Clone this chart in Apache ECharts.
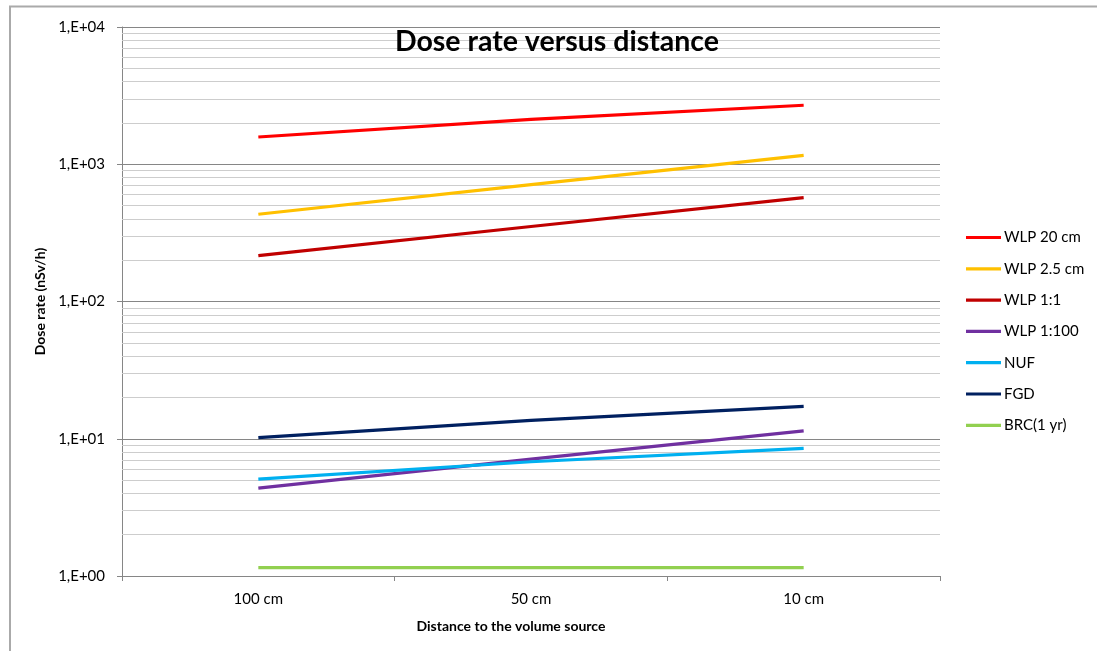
<!DOCTYPE html>
<html>
<head>
<meta charset="utf-8">
<script src="https://cdn.jsdelivr.net/npm/echarts@6/dist/echarts.min.js"></script>
<style>
html,body{margin:0;padding:0;background:#fff;}
#chart{width:1097px;height:651px;}
</style>
</head>
<body>
<div id="chart"></div>
<script>
var categories = ['100 cm', '50 cm', '10 cm'];
var wlp20 = [1580, 2120, 2690];
var wlp25 = [432, 710, 1160];
var wlp11 = [216, 352, 572];
var wlp1100 = [4.37, 7.1, 11.4];
var nuf = [5.08, 6.8, 8.5];
var fgd = [10.2, 13.6, 17.2];
var brc = [1.15, 1.15, 1.15];
var yTickLabels = ['1,E+00', '1,E+01', '1,E+02', '1,E+03', '1,E+04'];
var seriesNames = ['WLP 20 cm', 'WLP 2.5 cm', 'WLP 1:1', 'WLP 1:100', 'NUF', 'FGD', 'BRC(1 yr)'];
var seriesColors = ['#FF0000', '#FFC000', '#C00000', '#7030A0', '#00B0F0', '#002060', '#92D050'];
var seriesData = [wlp20, wlp25, wlp11, wlp1100, nuf, fgd, brc];

var FONT = 'Lato, "Open Sans", sans-serif';

// minor gridlines at 2..9 x each decade
var minorLines = [];
for (var d = 0; d < 4; d++) {
  for (var m = 2; m <= 9; m++) {
    minorLines.push({ yAxis: m * Math.pow(10, d) });
  }
}

var series = seriesNames.map(function (n, i) {
  return {
    name: n,
    type: 'line',
    data: seriesData[i],
    symbol: 'none',
    smooth: false,
    z: 5,
    lineStyle: { color: seriesColors[i], width: 3.2 },
    itemStyle: { color: seriesColors[i] }
  };
});
series.unshift({
  name: 'minor',
  type: 'line',
  data: ['-', '-', '-'],
  symbol: 'none',
  silent: true,
  z: 1,
  markLine: {
    silent: true,
    symbol: ['none', 'none'],
    label: { show: false },
    lineStyle: { color: '#cdcdcd', width: 1, type: 'solid' },
    emphasis: { disabled: true },
    animation: false,
    data: minorLines
  }
});

var chart = echarts.init(document.getElementById('chart'), null, { renderer: 'canvas' });
chart.setOption({
  animation: false,
  backgroundColor: '#ffffff',
  graphic: [{
    type: 'rect',
    shape: { x: 10, y: 6.5, width: 1200, height: 800 },
    style: { fill: 'none', stroke: '#aaaaaa', lineWidth: 2 },
    silent: true
  }],
  title: {
    text: 'Dose rate versus distance',
    left: 552,
    textAlign: 'center',
    top: 22,
    textStyle: { fontFamily: FONT, fontSize: 28.5, fontWeight: 'bold', color: '#000' }
  },
  legend: {
    orient: 'vertical',
    left: 961,
    top: 225,
    icon: 'rect',
    itemWidth: 35,
    itemHeight: 3.2,
    itemGap: 16.3,
    data: seriesNames,
    textStyle: { fontFamily: FONT, fontSize: 15, lineHeight: 14, color: '#000', padding: [0, 0, 0, -2] }
  },
  grid: { left: 122, top: 27, right: 157, bottom: 75, containLabel: false },
  xAxis: {
    type: 'category',
    data: categories,
    boundaryGap: true,
    name: 'Distance to the volume source',
    nameLocation: 'middle',
    nameGap: 43,
    nameTextStyle: { fontFamily: FONT, fontSize: 14, fontWeight: 'bold', color: '#000', padding: [0, 40, 0, 0] },
    axisLine: { lineStyle: { color: '#868686', width: 1 } },
    axisTick: { show: true, length: 5, lineStyle: { color: '#868686' } },
    axisLabel: { fontFamily: FONT, fontSize: 15, color: '#000', margin: 16 },
    splitLine: { show: false }
  },
  yAxis: {
    type: 'log',
    logBase: 10,
    min: 1,
    max: 10000,
    name: 'Dose rate (nSv/h)',
    nameLocation: 'middle',
    nameGap: 72,
    nameRotate: 90,
    nameTextStyle: { fontFamily: FONT, fontSize: 14, fontWeight: 'bold', color: '#000' },
    axisLine: { show: true, lineStyle: { color: '#868686', width: 1 } },
    axisTick: { show: true, length: 5, lineStyle: { color: '#868686' } },
    axisLabel: {
      fontFamily: FONT, fontSize: 15, color: '#000', margin: 17,
      formatter: function (v) {
        var e = Math.round(Math.log10(v));
        return yTickLabels[e];
      }
    },
    splitLine: { show: true, lineStyle: { color: '#868686', width: 1 } }
  },
  series: series
});
</script>
</body>
</html>
